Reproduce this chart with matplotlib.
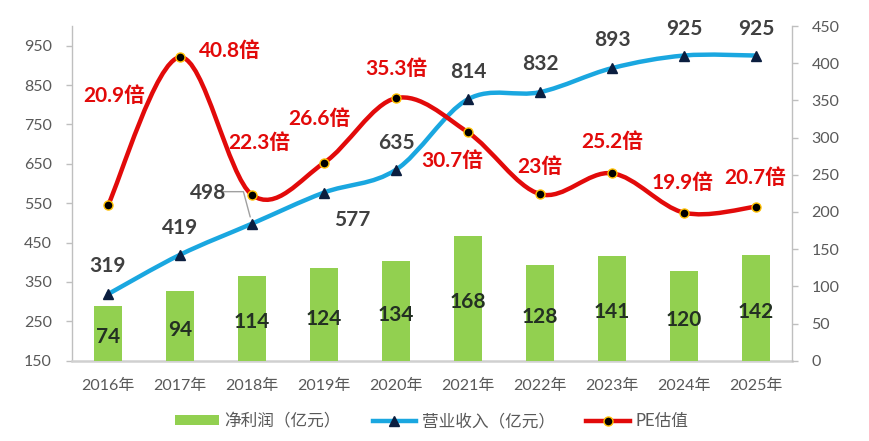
import matplotlib
matplotlib.use("Agg")
import matplotlib.pyplot as plt
from matplotlib.path import Path
from matplotlib.patches import PathPatch, Patch
from matplotlib.lines import Line2D
import numpy as np

plt.rcParams['font.family'] = ['Lato', 'Noto Sans CJK SC', 'DejaVu Sans']

# ---------------- data ----------------
years = ['2016年', '2017年', '2018年', '2019年', '2020年', '2021年', '2022年', '2023年', '2024年', '2025年']
profit = [74, 94, 114, 124, 134, 168, 128, 141, 120, 142]          # 净利润（亿元）
revenue = [319, 419, 498, 577, 635, 814, 832, 893, 925, 925]       # 营业收入（亿元）
pe = [20.9, 40.8, 22.3, 26.6, 35.3, 30.7, 22.4, 25.2, 19.9, 20.7]  # PE估值（倍）, as plotted
pe_labels = ['20.9倍', '40.8倍', '22.3倍', '26.6倍', '35.3倍', '30.7倍', '23倍', '25.2倍', '19.9倍', '20.7倍']
left_ticks = [150, 250, 350, 450, 550, 650, 750, 850, 950]
right_ticks = [0, 50, 100, 150, 200, 250, 300, 350, 400, 450]

# label offsets (pixels) -- layout only
rev_off = [(0, 28), (0, 27), (-44, 31), (28, -27), (0, 27), (0, 27), (0, 28), (0, 28), (0, 27), (0, 27)]
pe_off = [(6, 109), (50, 6), (7, 52), (-5, 44), (0, 29), (-16, -29), (0, 27), (0, 31), (-1, 30), (-1, 29)]

C_BAR = '#92D050'
C_BLUE = '#1AA7E0'
C_RED = '#E20A0A'
C_TRI = '#0B1E3F'
C_AX = '#BFBFBF'
C_TICK = '#595959'


def smooth_path(xs, ys):
    pts = np.column_stack([xs, ys]).astype(float)
    n = len(pts)
    verts = [pts[0]]
    codes = [Path.MOVETO]
    for i in range(n - 1):
        p0 = pts[i - 1] if i > 0 else pts[i]
        p1 = pts[i]
        p2 = pts[i + 1]
        p3 = pts[i + 2] if i + 2 < n else pts[i + 1]
        c1 = p1 + (p2 - p0) / 6.0
        c2 = p2 - (p3 - p1) / 6.0
        verts += [c1, c2, p2]
        codes += [Path.CURVE4] * 3
    return Path(np.array(verts), codes)


fig = plt.figure(figsize=(8.7, 4.41), dpi=100)
ax = fig.add_axes([72 / 870, 1 - 360.7 / 441, 720 / 870, 334.7 / 441])
ax2 = ax.twinx()   # right axis: bars
ax3 = ax.twinx()   # hidden axis: PE
x = np.arange(len(years))

for a in (ax, ax2, ax3):
    a.set_xlim(-0.5, len(years) - 0.5)
    a.set_facecolor('none')

ax.set_ylim(150, 1000)
ax.set_yticks(left_ticks)
ax2.set_ylim(0, 450)
ax2.set_yticks(right_ticks)
ax3.set_ylim(0, 45)
ax3.axis('off')

# spines
for a in (ax, ax2):
    a.spines['top'].set_visible(False)
    for s in ('left', 'right', 'bottom'):
        a.spines[s].set_color(C_AX)
        a.spines[s].set_linewidth(1.0)
ax.spines['right'].set_visible(False)
ax2.spines['left'].set_visible(False)
ax2.spines['bottom'].set_visible(False)
ax.spines['bottom'].set_linewidth(1.8)
ax.spines['bottom'].set_color('#D0D0D0')

ax.tick_params(axis='y', direction='out', length=4, width=1, color=C_AX, labelsize=11.5,
               labelcolor=C_TICK, pad=10.5)
ax2.tick_params(axis='y', direction='out', length=4, width=1, color=C_AX, labelsize=11.5,
                labelcolor=C_TICK, pad=10)
ax.set_xticks(x)
ax.set_xticklabels(years)
ax.tick_params(axis='x', length=0, labelsize=11.5, labelcolor=C_TICK, pad=13)
ax2.tick_params(axis='x', length=0, labelbottom=False)

# bars (right axis)
bars = ax2.bar(x, profit, width=0.4, color=C_BAR, zorder=1)
ax2.bar_label(bars, labels=[str(v) for v in profit], label_type='center', padding=-3,
              fontsize=15, fontweight='bold', color='#233023')

# revenue line (left axis)
ax.add_patch(PathPatch(smooth_path(x, revenue), fill=False, edgecolor=C_BLUE, lw=3.2,
                       capstyle='round', joinstyle='round', zorder=2))
ax.plot(x, revenue, linestyle='none', marker='^', markersize=7.5, color=C_TRI, zorder=3)
for i, v in enumerate(revenue):
    ax.annotate(str(v), (x[i], v), xytext=rev_off[i], textcoords='offset pixels',
                ha='center', va='center', fontsize=15, fontweight='bold', color='#404040', zorder=5)
# leader line for 498
i498 = 2
ax.annotate('', (x[i498], revenue[i498]), xytext=(-30, 32), textcoords='offset pixels',
            arrowprops=dict(arrowstyle='-', color='#A0A0A0', lw=1,
                            connectionstyle='angle,angleA=180,angleB=105,rad=0',
                            shrinkA=0, shrinkB=5))

# PE line (hidden axis)
ax3.add_patch(PathPatch(smooth_path(x, pe), fill=False, edgecolor=C_RED, lw=3.2,
                        capstyle='round', joinstyle='round', zorder=2))
ax3.plot(x, pe, linestyle='none', marker='o', markersize=6.5, markerfacecolor='black',
         markeredgecolor='#FFC000', markeredgewidth=1.0, zorder=3)
for i, v in enumerate(pe):
    ax3.annotate(pe_labels[i], (x[i], v), xytext=pe_off[i], textcoords='offset pixels',
                 ha='center', va='center', fontsize=15, fontweight='bold', color=C_RED, zorder=5)

# legend
handles = [
    Patch(facecolor=C_BAR, edgecolor='none'),
    Line2D([], [], color=C_BLUE, lw=3.2, marker='^', markersize=7.5,
           markerfacecolor=C_TRI, markeredgecolor=C_TRI),
    Line2D([], [], color=C_RED, lw=3.2, marker='o', markersize=6.5,
           markerfacecolor='black', markeredgecolor='#FFC000'),
]
labels = ['净利润（亿元）', '营业收入（亿元）', 'PE估值']
fig.legend(handles, labels, loc='center', bbox_to_anchor=(432 / 870, 1 - 421 / 441), ncol=3,
           frameon=False, fontsize=12, handlelength=2.6, handleheight=0.5, handletextpad=0.35,
           columnspacing=1.9, labelcolor=C_TICK)

fig.savefig('out.png', dpi=100)
